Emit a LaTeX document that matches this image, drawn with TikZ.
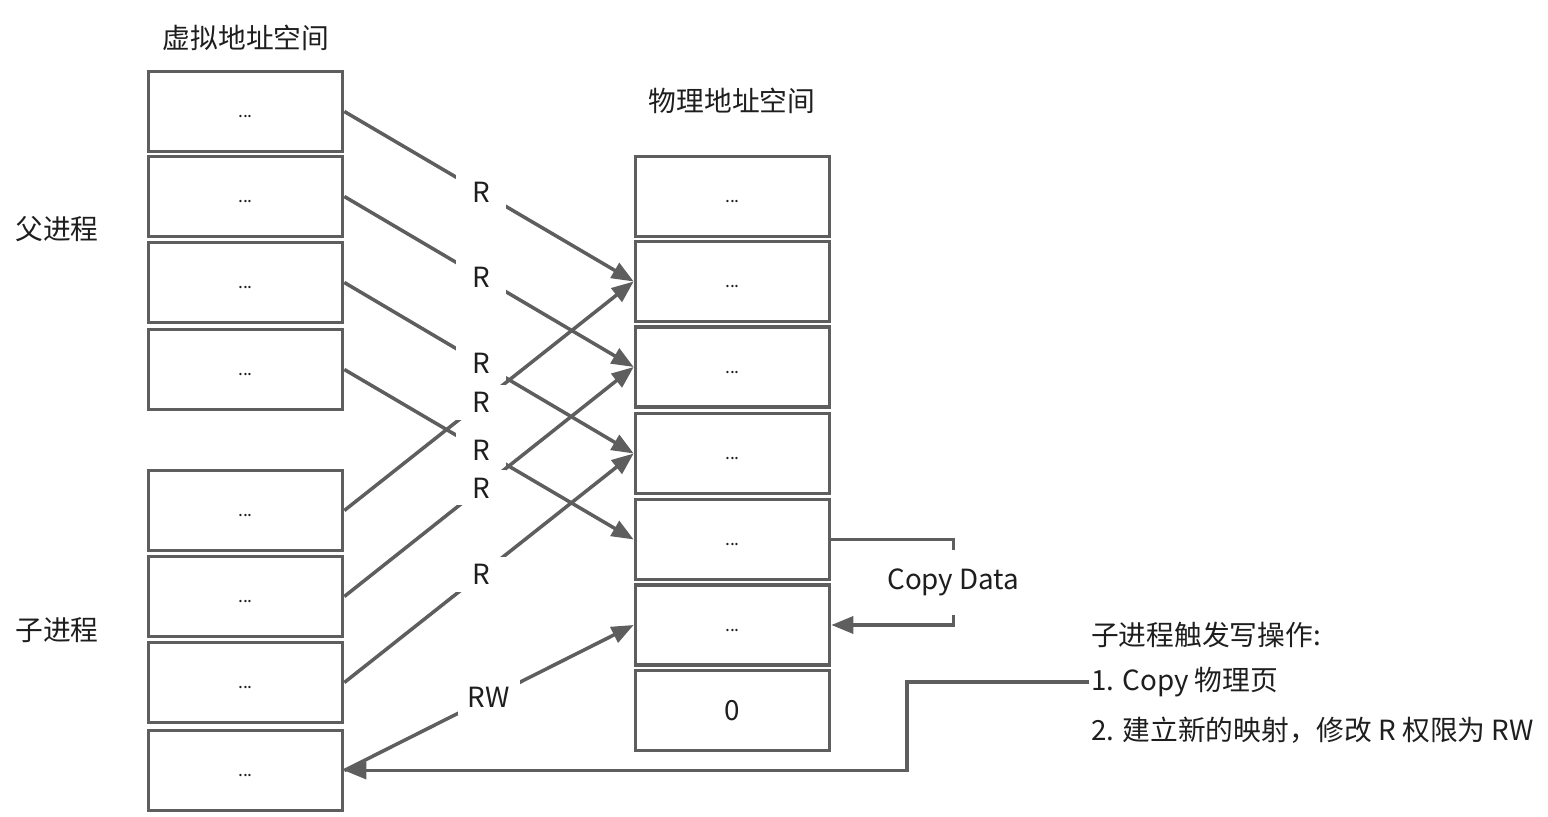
\documentclass[tikz,border=0pt]{standalone}
\usepackage{fontspec}
\setmainfont{Noto Sans CJK SC}
\usetikzlibrary{arrows.meta}
\definecolor{linea}{HTML}{5E5E5E}
\definecolor{testo}{HTML}{1E1E1E}
\newcommand{\puntini}{\vphantom{0}...}

\begin{document}
\begin{tikzpicture}[x=0.02cm, y=-0.02cm, font=\fontsize{15.8}{18}\selectfont,
  every node/.style={text=testo},
  pagina/.style={draw=linea, line width=2.1pt, minimum width=3.88cm, minimum height=1.6cm, inner sep=0pt, font=\fontsize{10}{11}\selectfont},
  freccia/.style={draw=linea, line width=2pt, -{Triangle[length=0.44cm,width=0.34cm]}},
  etich/.style={fill=white, inner sep=0pt, minimum width=1cm, minimum height=0.7cm}]
\useasboundingbox (0,0) rectangle (1548,817);

%----- spazio virtuale: padre -----
\node at (246,38) {虚拟地址空间};
\node at (57,229) {父进程};
\node[pagina] (v1) at (245.5,111.5) {\puntini};
\node[pagina] (v2) at (245.5,196.5) {\puntini};
\node[pagina] (v3) at (245.5,282.5) {\puntini};
\node[pagina] (v4) at (245.5,369.5) {\puntini};

%----- spazio virtuale: figlio -----
\node at (57,630) {子进程};
\node[pagina] (c1) at (245.5,510.5) {\puntini};
\node[pagina] (c2) at (245.5,596.5) {\puntini};
\node[pagina] (c3) at (245.5,682.5) {\puntini};
\node[pagina] (c4) at (245.5,770.5) {\puntini};

%----- spazio fisico -----
\node at (732,101) {物理地址空间};
\node[pagina] (f1) at (732.5,196.5) {\puntini};
\node[pagina] (f2) at (732.5,281.5) {\puntini};
\node[pagina] (f3) at (732.5,367) {\puntini};
\node[pagina] (f4) at (732.5,453.5) {\puntini};
\node[pagina] (f5) at (732.5,539.5) {\puntini};
\node[pagina] (f6) at (732.5,625) {\puntini};
\node[pagina, font=\fontsize{15.8}{18}\selectfont] (f7) at (732.5,710.5) {0};

%----- mappature in sola lettura -----
\draw[freccia] (v1.east) -- (f2.west) node[etich, pos=0.473]{R};
\draw[freccia] (v2.east) -- (f3.west) node[etich, pos=0.473]{R};
\draw[freccia] (v3.east) -- (f4.west) node[etich, pos=0.473]{R};
\draw[freccia] (v4.east) -- (f5.west) node[etich, pos=0.473]{R};
\draw[freccia] (c1.east) -- (f2.west) node[etich, pos=0.473]{R};
\draw[freccia] (c2.east) -- (f3.west) node[etich, pos=0.473]{R};
\draw[freccia] (c3.east) -- (f4.west) node[etich, pos=0.473]{R};
\draw[freccia] (c4.east) -- (f6.west) node[etich, midway, inner xsep=0.2cm]{RW};

%----- copia della pagina -----
\draw[freccia] (f5.east) -- ++(122,0) coordinate (cd)
  -- node[etich, minimum height=1.3cm]{Copy Data} (cd |- f6.east) -- (f6.east);

%----- nota a destra -----
\node[anchor=west, inner sep=1pt] (t1) at (1089,635) {子进程触发写操作:};
\node[anchor=west, inner sep=1pt] (t2) at (1089,682) {1. Copy 物理页};
\node[anchor=west, inner sep=1pt] (t3) at (1089,730) {2. 建立新的映射，修改 R 权限为 RW};
\draw[freccia] (t2.west) -- ++(-182,0) |- (c4.east);
\end{tikzpicture}
\end{document}
